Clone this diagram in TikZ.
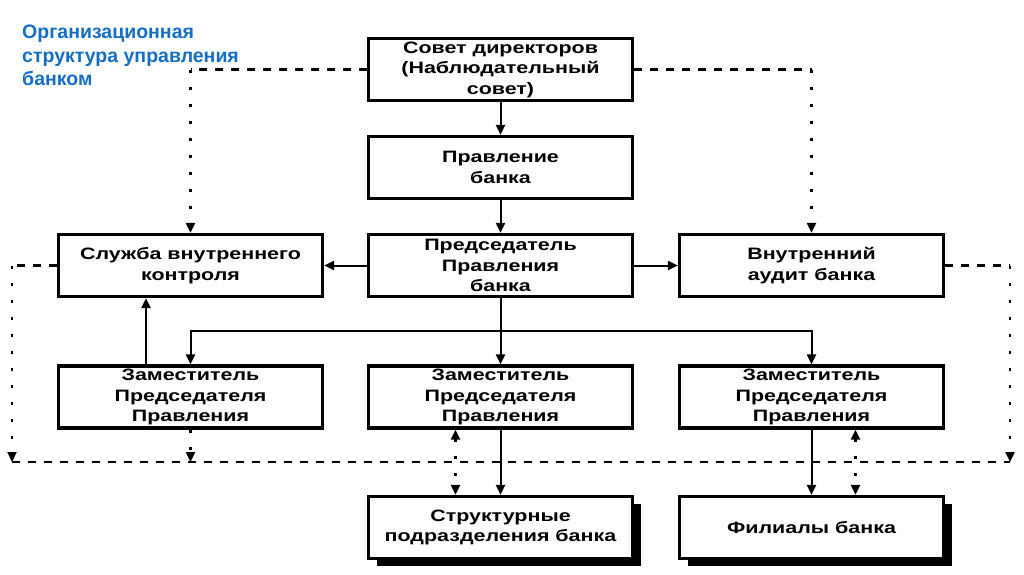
\documentclass[tikz,border=0pt]{standalone}
\usepackage{fontspec}
\setmainfont{Liberation Sans}
\newfontfamily\boxfont[FakeStretch=1.3]{Liberation Sans}
\usetikzlibrary{arrows.meta,shadows}
\definecolor{titleblue}{RGB}{22,110,195}
\begin{document}
\begin{tikzpicture}[x=1pt,y=-1pt,
  box/.style={draw, fill=white, line width=3.2pt, minimum width=264pt, minimum height=62pt,
    inner sep=2pt, align=center, font=\boxfont\bfseries\fontsize{16.5}{20.5}\selectfont},
  shbox/.style={box, drop shadow={shadow xshift=8pt, shadow yshift=-7pt, opacity=1, fill=black}},
  tip/.style={-{Triangle[length=10pt,width=9pt]}},
  bitip/.style={{Triangle[length=10pt,width=9pt]}-{Triangle[length=10pt,width=9pt]}},
  conn/.style={line width=2pt},
  dashh/.style={line width=2.2pt, dash pattern=on 8pt off 8pt},
  dotv/.style={line width=2.2pt, dash pattern=on 3pt off 14pt},
  ttl/.style={font=\bfseries\fontsize{19.5}{23.5}\selectfont, text=titleblue, align=left, inner sep=0pt}]
\useasboundingbox (0,0) rectangle (1024,574);
\fill[white] (0,0) rectangle (1024,574);

\node[ttl, anchor=north west] (title) at (22,25) {Организационная\\структура управления\\банком};

\node[box] (bd) at (500.5,69.5) {Совет директоров\\(Наблюдательный\\совет)};
\node[box] (pr) at (500.5,167.5) {Правление\\банка};
\node[box] (ch) at (500.5,265.5) {Председатель\\Правления\\банка};
\node[box] (sl) at (190.5,265.5) {Служба внутреннего\\контроля};
\node[box] (au) at (811.5,265.5) {Внутренний\\аудит банка};
\node[box] (zl) at (190.5,397) {Заместитель\\Председателя\\Правления};
\node[box] (zm) at (500.5,397) {Заместитель\\Председателя\\Правления};
\node[box] (zr) at (811.5,397) {Заместитель\\Председателя\\Правления};
\node[shbox] (st) at (500.5,527.5) {Структурные\\подразделения банка};
\node[shbox] (fi) at (811.5,527.5) {Филиалы банка};

% solid connectors
\draw[conn,tip] (bd) -- (pr);
\draw[conn,tip] (pr) -- (ch);
\draw[conn,tip] (ch) -- (sl);
\draw[conn,tip] (ch) -- (au);
\coordinate (j) at (500.5,331);
\draw[conn] (ch.south) -- (j);
\draw[conn,tip] (j) -| (zl.north);
\draw[conn,tip] (j) -| (zr.north);
\draw[conn,tip] (j) -- (zm.north);
\draw[conn,tip] ([xshift=-44.5pt]zl.north) -- ([xshift=-44.5pt]sl.south);
\draw[conn,tip] (zm.south) -- (st.north);
\draw[conn,tip] (zr.south) -- (fi.north);

% dashed control lines
\coordinate (tl) at (sl.north |- bd.west);
\coordinate (tr) at (au.north |- bd.east);
\draw[dashh] (bd.west) -- (tl);
\draw[dashh] (bd.east) -- (tr);
\draw[dotv,tip] (tl) -- (sl.north);
\draw[dotv,tip] (tr) -- (au.north);

\coordinate (ml) at (12,265.5);
\coordinate (mr) at (1010,265.5);
\coordinate (bl) at (12,462);
\coordinate (br) at (1010,462);
\draw[dashh] (sl.west) -- (ml);
\draw[dashh] (au.east) -- (mr);
\draw[dotv,tip] (ml) -- (bl);
\draw[dotv,tip] (mr) -- (br);
\draw[dashh] (bl) -- (br);
\coordinate (zlb) at (zl.south |- bl);
\draw[dotv,tip] (zl.south) -- (zlb);

\draw[dotv,bitip] ([xshift=-45pt]zm.south) -- ([xshift=-45pt]st.north);
\draw[dotv,bitip] ([xshift=44pt]zr.south) -- ([xshift=44pt]fi.north);
\end{tikzpicture}
\end{document}
